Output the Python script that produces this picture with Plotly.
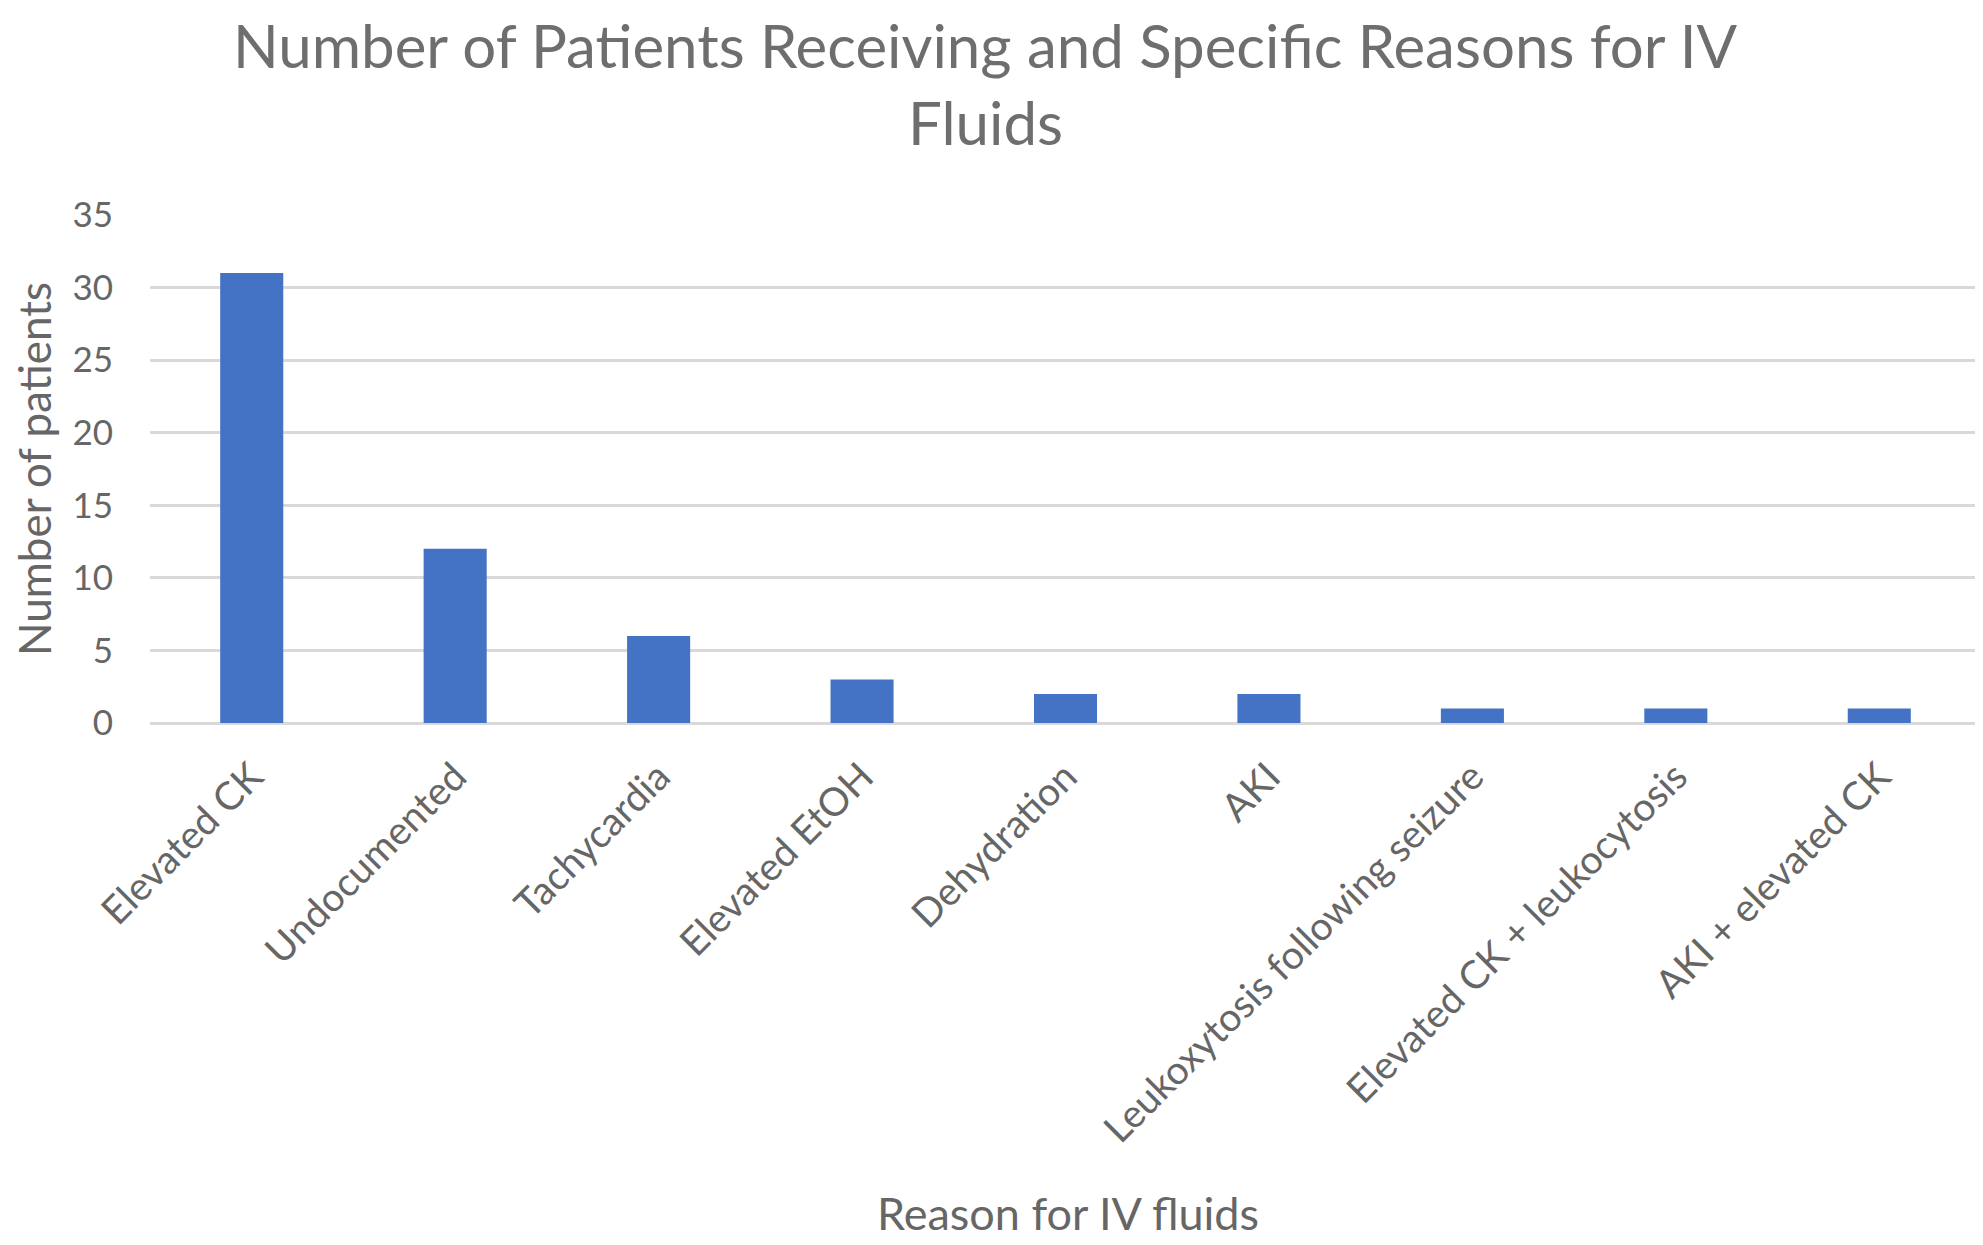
import plotly.graph_objects as go

# IV fluid reasons
reasons = [
    'Elevated CK', 'Undocumented', 'Tachycardia', 'Elevated EtOH',
    'Dehydration', 'AKI', 'Leukoxytosis following seizure',
    'Elevated CK + leukocytosis', 'AKI + elevated CK',
]
patients = [31, 12, 6, 3, 2, 2, 1, 1, 1]
y_ticks = [0, 5, 10, 15, 20, 25, 30, 35]

font_name = 'Lato'
grey = '#666666'

fig = go.Figure()

fig.add_trace(go.Bar(
    x=reasons,
    y=patients,
    marker=dict(color='#4472C4', line=dict(width=0)),
))

# title, two lines placed as annotations
fig.add_annotation(
    text='Number of Patients Receiving and Specific Reasons for IV',
    xref='paper', yref='paper', x=0.4565, y=1.335,
    xanchor='center', yanchor='middle', showarrow=False, borderpad=0,
    font=dict(size=60, color='#6e6e6e', family=font_name),
)
fig.add_annotation(
    text='Fluids',
    xref='paper', yref='paper', x=0.4565, y=1.184,
    xanchor='center', yanchor='middle', showarrow=False, borderpad=0,
    font=dict(size=60, color='#6e6e6e', family=font_name),
)

# x axis title
fig.add_annotation(
    text='Reason for IV fluids',
    xref='paper', yref='paper', x=0.5015, y=-0.964,
    xanchor='center', yanchor='middle', showarrow=False,
    font=dict(size=45, color=grey, family=font_name),
)

fig.update_layout(dict(
    width=1983,
    height=1245,
    paper_bgcolor='white',
    plot_bgcolor='white',
    showlegend=False,
    bargap=0.69,
    margin=dict(l=142, r=10, t=207, b=530),
    font=dict(family=font_name, color=grey),
    xaxis=dict(
        tickangle=-45,
        tickfont=dict(size=39, color=grey),
        ticklabelstandoff=22,
        showgrid=False,
        showline=False,
        automargin=False,
    ),
    yaxis=dict(
        range=[0, 35],
        tickvals=y_ticks,
        tickfont=dict(size=35, color=grey),
        ticklabelstandoff=36,
        showgrid=True,
        gridcolor='#D9D9D9',
        gridwidth=3,
        zeroline=True,
        zerolinecolor='#D9D9D9',
        zerolinewidth=3,
        showline=False,
        automargin=False,
        title=dict(text='Number of patients', font=dict(size=44, color=grey), standoff=6),
    ),
))

fig.write_html('out.html')
